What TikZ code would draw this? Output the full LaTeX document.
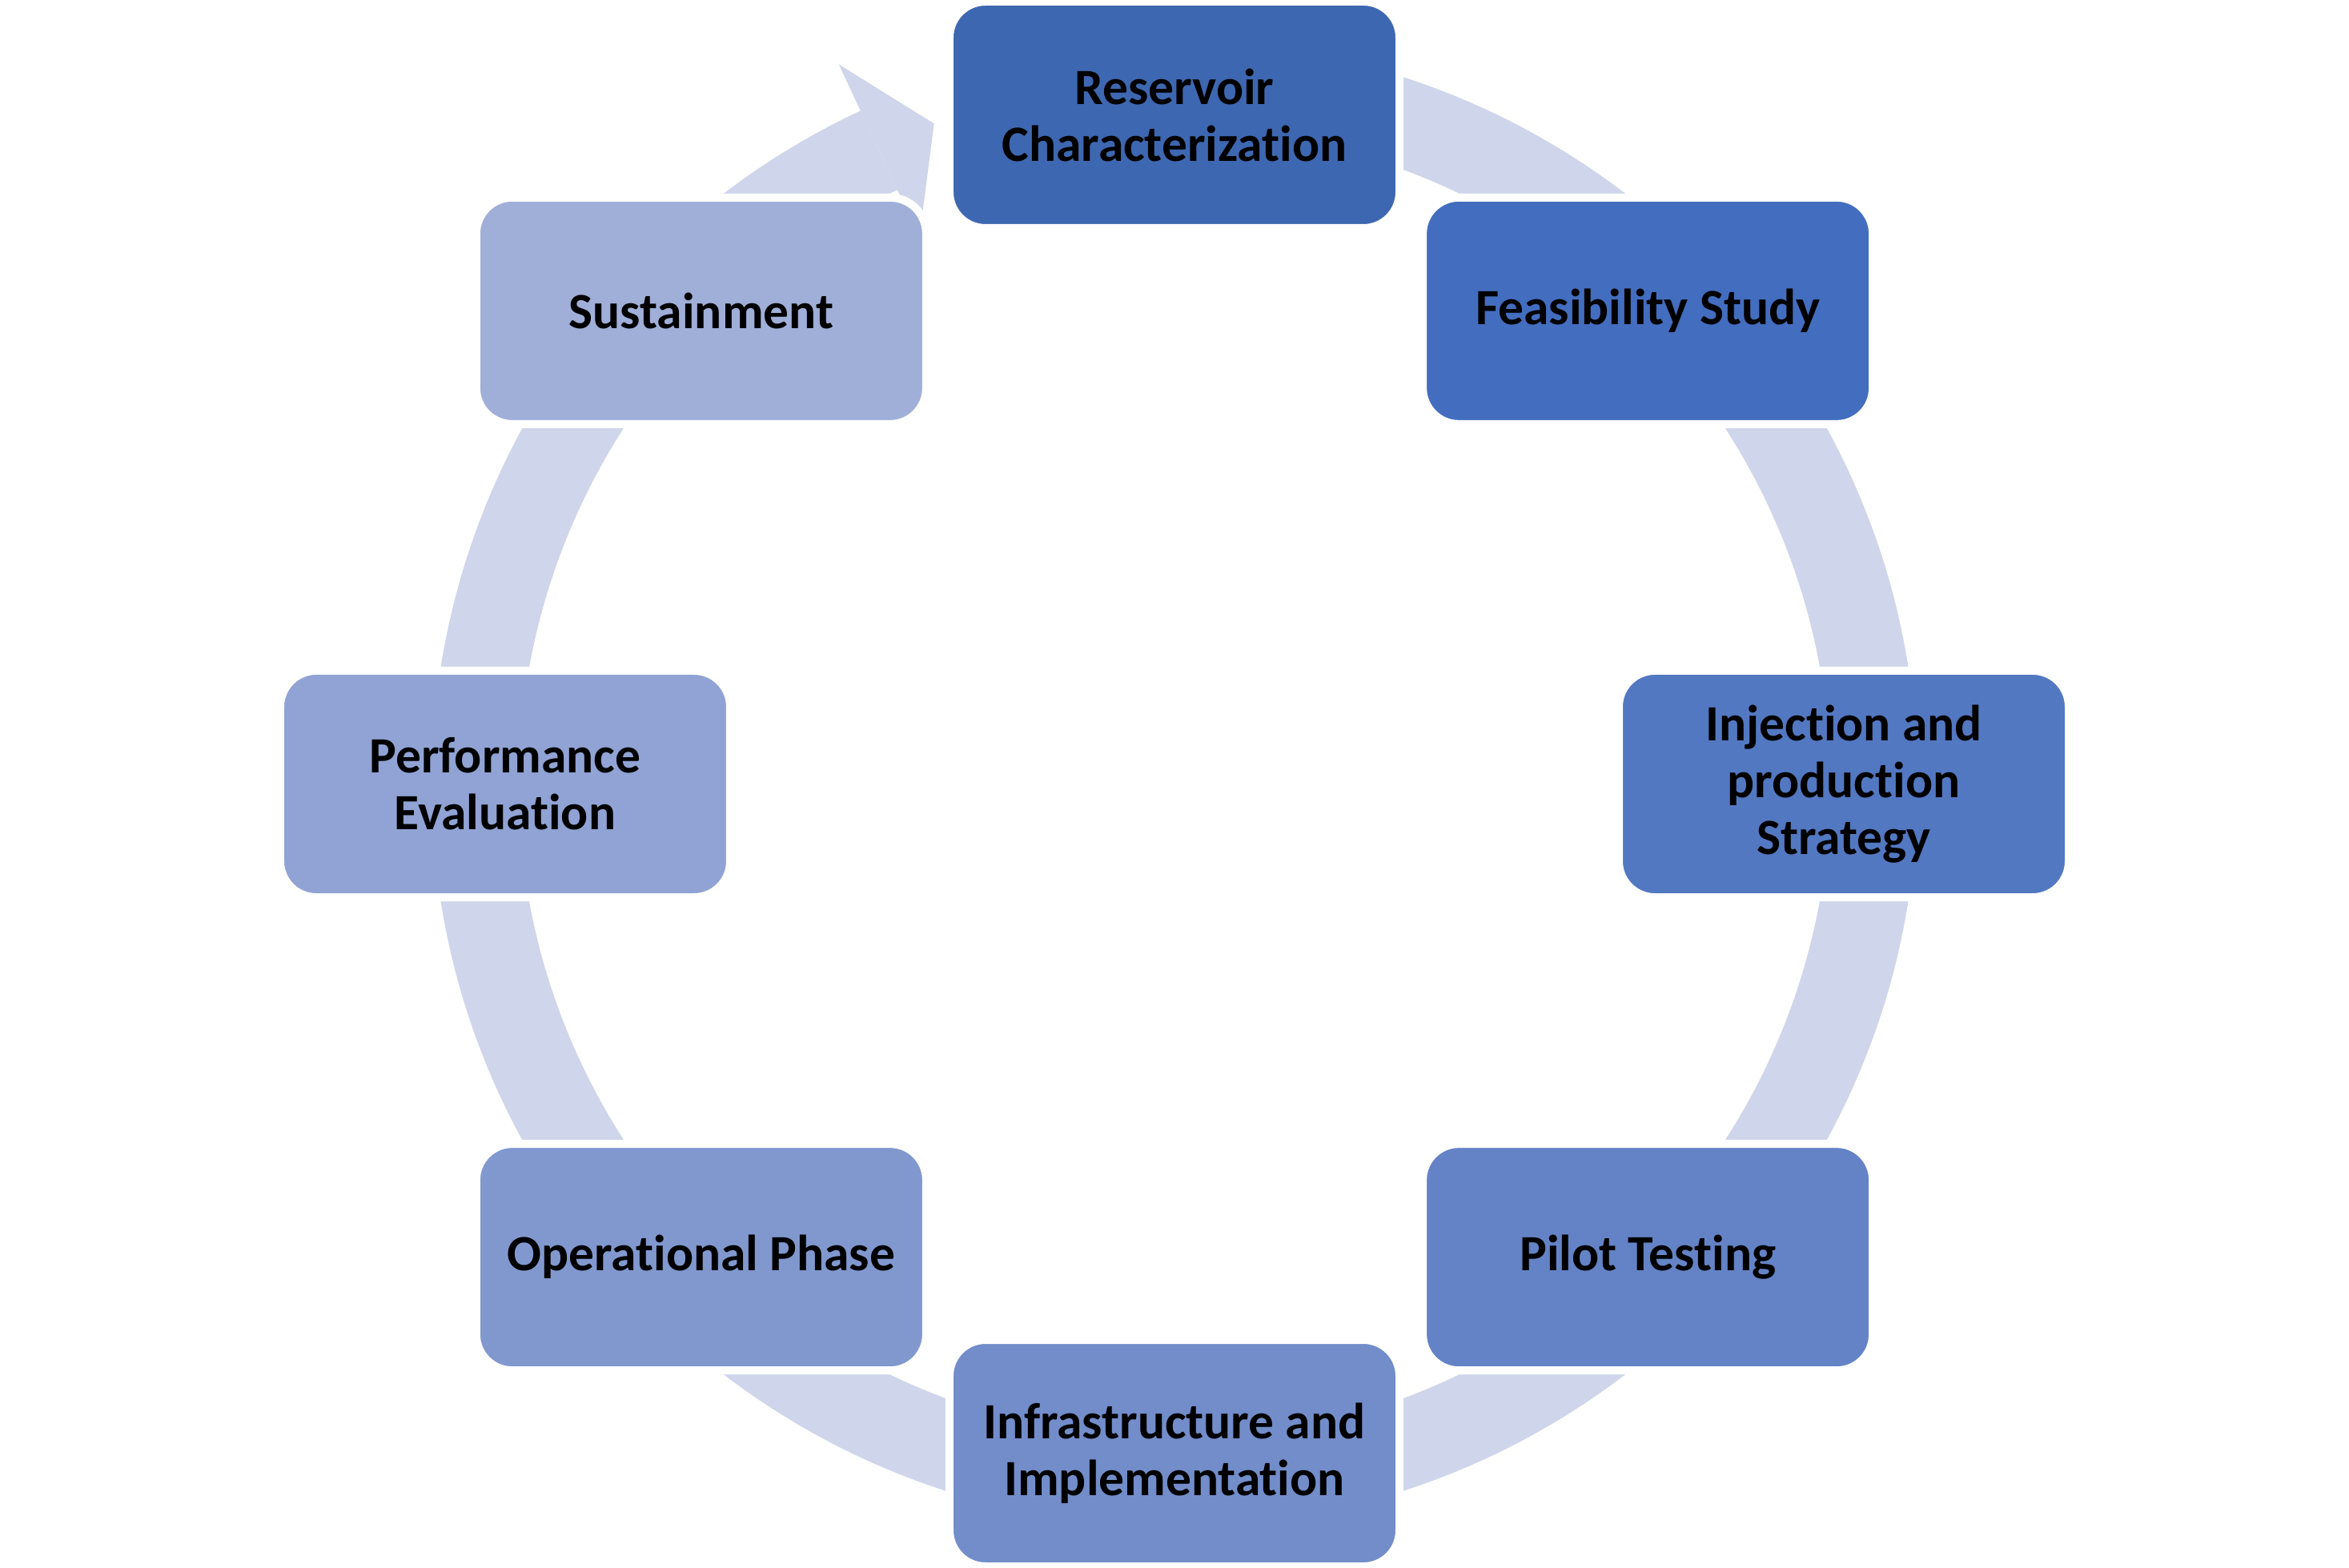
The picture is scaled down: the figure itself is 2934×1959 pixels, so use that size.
\documentclass[tikz,border=0pt]{standalone}
\usepackage{fontspec}
\setmainfont{Carlito}[RawFeature={-liga}]
\definecolor{ringc}{HTML}{CFD5EA}
\definecolor{c1}{HTML}{3E67B1}
\definecolor{c2}{HTML}{436DBF}
\definecolor{c3}{HTML}{5378C2}
\definecolor{c4}{HTML}{6483C6}
\definecolor{c5}{HTML}{728DCA}
\definecolor{c6}{HTML}{8198CF}
\definecolor{c7}{HTML}{90A3D4}
\definecolor{c8}{HTML}{A0AFD8}
\begin{document}
\begin{tikzpicture}[x=1pt,y=1pt,
  box/.style={rounded corners=45pt, draw=white, line width=10pt,
    minimum width=562pt, minimum height=283pt, align=center, inner sep=0pt,
    font=\fontsize{63.5}{71}\selectfont\bfseries, text=black}]
\useasboundingbox (-1467,-979.5) rectangle (1467,979.5);
% circular band behind the boxes
\fill[ringc] (90:928) arc[start angle=90,end angle=-245,radius=928pt]
  -- (-245:819) arc[start angle=-245,end angle=90,radius=819pt] -- cycle;
% arrow head
\fill[ringc] (115:992) -- (110:878) -- (115:754) -- cycle;
% boxes
\node[box, fill=c1] (n1) at (90:836)   {Reservoir\\Characterization};
\node[box, fill=c2] (n2) at (45:836)   {Feasibility Study};
\node[box, fill=c3] (n3) at (0:836)    {Injection and\\production\\Strategy};
\node[box, fill=c4] (n4) at (-45:836)  {Pilot Testing};
\node[box, fill=c5] (n5) at (-90:836)  {Infrastructure and\\Implementation};
\node[box, fill=c6] (n6) at (-135:836) {Operational Phase};
\node[box, fill=c7] (n7) at (180:836)  {Performance\\Evaluation};
\node[box, fill=c8] (n8) at (135:836)  {Sustainment};
\end{tikzpicture}
\end{document}
